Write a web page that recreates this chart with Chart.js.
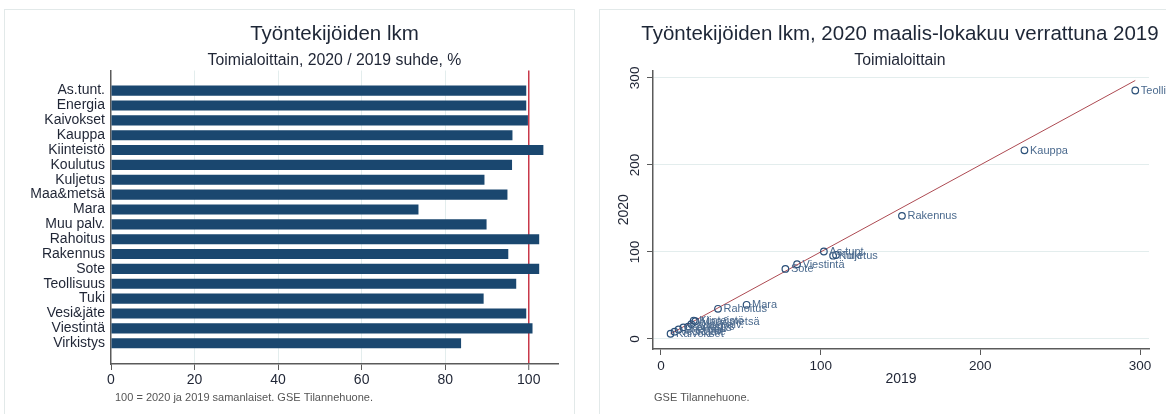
<!DOCTYPE html>
<html lang="fi">
<head>
    <meta charset="UTF-8">
    <title>Työntekijöiden lkm</title>
    <style>
        html, body {
            margin: 0;
            padding: 0;
            background: #fff;
            width: 1166px;
            height: 414px;
            overflow: hidden;
        }
        .panel {
            position: absolute;
            top: 9px;
            height: 430px;
            border: 1px solid #e2e9e9;
            box-sizing: border-box;
            background: #fff;
        }
        #leftPanel { left: 4px; width: 571px; }
        #rightPanel { left: 599px; width: 620px; }
        canvas { position: absolute; }
        #barChart { left: 5px; top: 11px; }
        #scatterChart { left: 600px; top: 11px; }
    </style>
</head>
<body>
    <div class="panel" id="leftPanel"></div>
    <div class="panel" id="rightPanel"></div>
    <canvas id="barChart" width="569" height="398"></canvas>
    <canvas id="scatterChart" width="600" height="398"></canvas>

    <script src="https://cdn.jsdelivr.net/npm/chart.js"></script>
    <script>
        // Left chart: 2020 / 2019 ratio by sector, %
        const sectors = ['As.tunt.', 'Energia', 'Kaivokset', 'Kauppa', 'Kiinteistö', 'Koulutus', 'Kuljetus',
            'Maa&metsä', 'Mara', 'Muu palv.', 'Rahoitus', 'Rakennus', 'Sote', 'Teollisuus', 'Tuki',
            'Vesi&jäte', 'Viestintä', 'Virkistys'];
        const ratio = [99.4, 99.4, 99.8, 96.1, 103.5, 96.0, 89.4,
            94.9, 73.6, 89.9, 102.5, 95.1, 102.5, 97.0, 89.2,
            99.4, 100.9, 83.8];
        const ratioTicks = [0, 20, 40, 60, 80, 100];
        const refValue = 100;

        // Right chart: employees 2019 vs 2020 (Mar-Oct)
        const scatterNames = ['Teollisuus', 'Kauppa', 'Rakennus', 'As.tunt.', 'Kuljetus', 'Tuki', 'Viestintä',
            'Sote', 'Mara', 'Rahoitus', 'Kiinteistö', 'Maa&metsä', 'Muu palv.', 'Virkistys', 'Koulutus',
            'Energia', 'Vesi&jäte', 'Kaivokset'];
        const emp2019 = [297, 227.6, 150.9, 102, 107.8, 109.6, 85.2,
            77.9, 53.6, 35.7, 20.5, 21.5, 19, 17, 14,
            11, 8.5, 6];
        const emp2020 = [285.5, 216.8, 141.5, 100.5, 95.7, 96.5, 85.9,
            80.5, 39.3, 34.7, 21.2, 20.4, 17.1, 14.2, 13.4,
            10.9, 8.4, 6];
        const refLine2019 = [6, 297];
        const refLine2020 = [6, 297];
        const empTicks = [0, 100, 200, 300];

        const FONT = '"Liberation Sans", Arial, sans-serif';
        const titleColor = '#1d2636';
        const textColor = '#1f2535';
        const gridColor = '#e3eded';
        const axisColor = '#5a5a5a';
        const navy = '#1a476f';

        Chart.defaults.font.family = FONT;

        // small source note under the plot
        const footnotePlugin = {
            id: 'footnote',
            afterDraw(chart, args, opts) {
                const ctx = chart.ctx;
                ctx.save();
                ctx.font = '11px ' + FONT;
                ctx.fillStyle = '#555';
                ctx.textBaseline = 'middle';
                ctx.fillText(opts.text, chart.chartArea.left + opts.dx, chart.height - opts.bottom);
                ctx.restore();
            }
        };

        // text next to each scatter marker
        const markerLabels = {
            id: 'markerLabels',
            afterDatasetsDraw(chart, args, opts) {
                const meta = chart.getDatasetMeta(0);
                const ctx = chart.ctx;
                ctx.save();
                ctx.font = '11px ' + FONT;
                ctx.fillStyle = '#4b6a8e';
                ctx.textBaseline = 'middle';
                meta.data.forEach((pt, i) => {
                    ctx.fillText(opts.names[i], pt.x + 5.5, pt.y + 0.5);
                });
                ctx.restore();
            }
        };

        const titleFont = { size: 20.5, weight: 'normal' };
        const subFont = { size: 15.8 };

        new Chart(document.getElementById('barChart'), {
            type: 'bar',
            data: {
                datasets: [{
                    data: ratio.map((v, i) => ({ x: v, y: i })),
                    backgroundColor: navy,
                    borderWidth: 0,
                    barPercentage: 0.68,
                    categoryPercentage: 1
                }]
            },
            options: {
                responsive: false,
                animation: false,
                indexAxis: 'y',
                layout: { padding: { left: 0, right: 16, top: 0, bottom: 15 } },
                plugins: {
                    legend: { display: false },
                    tooltip: { enabled: false },
                    title: {
                        display: true, text: 'Työntekijöiden lkm', fullSize: false,
                        color: titleColor, font: titleFont,
                        padding: { top: 11.5, bottom: 0 }
                    },
                    subtitle: {
                        display: true, text: 'Toimialoittain, 2020 / 2019 suhde, %', fullSize: false,
                        color: textColor, font: subFont,
                        padding: { top: 4.5, bottom: 0 }
                    },
                    footnote: { text: '100 = 2020 ja 2019 samanlaiset. GSE Tilannehuone.', dx: 4, bottom: 10.7 }
                },
                scales: {
                    x: {
                        type: 'linear', min: 0, max: 107,
                        afterBuildTicks: s => { s.ticks = ratioTicks.map(v => ({ value: v })); },
                        grid: {
                            color: c => c.tick && c.tick.value === refValue ? '#c8394a'
                                : (c.tick && c.tick.value === 0 ? 'rgba(0,0,0,0)' : gridColor),
                            lineWidth: c => c.tick && c.tick.value === refValue ? 1.5 : 1,
                            tickLength: 6, tickColor: axisColor, tickWidth: 1
                        },
                        border: { color: axisColor, width: 1.5 },
                        ticks: { padding: 2, color: textColor, font: { size: 14 } },
                        afterFit: s => { s.height = 30; }
                    },
                    y: {
                        type: 'linear', reverse: true, offset: false, min: -1.35, max: 18.4,
                        afterBuildTicks: s => { s.ticks = sectors.map((_, i) => ({ value: i })); },
                        ticks: {
                            callback: v => sectors[v], autoSkip: false, padding: 6,
                            color: textColor, font: { size: 14 }
                        },
                        grid: { display: false, drawTicks: false, offset: false },
                        border: { color: axisColor, width: 1.5 },
                        afterFit: s => { s.width = 106; }
                    }
                }
            },
            plugins: [footnotePlugin]
        });

        new Chart(document.getElementById('scatterChart'), {
            type: 'scatter',
            data: {
                datasets: [{
                    data: emp2019.map((x, i) => ({ x: x, y: emp2020[i] })),
                    pointRadius: 3.3,
                    pointHoverRadius: 3.3,
                    pointBorderWidth: 1.2,
                    borderColor: '#2a4f78',
                    backgroundColor: 'rgba(0,0,0,0)'
                }, {
                    data: refLine2019.map((x, i) => ({ x: x, y: refLine2020[i] })),
                    showLine: true,
                    borderColor: '#ad4a52',
                    borderWidth: 1,
                    pointRadius: 0
                }]
            },
            options: {
                responsive: false,
                animation: false,
                layout: { padding: { left: 0, right: 0, top: 0, bottom: 21 } },
                plugins: {
                    legend: { display: false },
                    tooltip: { enabled: false },
                    title: {
                        display: true, text: 'Työntekijöiden lkm, 2020 maalis-lokakuu verrattuna 2019',
                        color: titleColor, font: titleFont,
                        padding: { top: 11.5, bottom: 0 }
                    },
                    subtitle: {
                        display: true, text: 'Toimialoittain',
                        color: textColor, font: subFont,
                        padding: { top: 4.5, bottom: 0 }
                    },
                    markerLabels: { names: scatterNames },
                    footnote: { text: 'GSE Tilannehuone.', dx: 1, bottom: 10.7 }
                },
                scales: {
                    x: {
                        type: 'linear', min: -5, max: 305.6,
                        afterBuildTicks: s => { s.ticks = empTicks.map(v => ({ value: v })); },
                        grid: { drawOnChartArea: false, tickLength: 6, tickColor: axisColor },
                        border: { color: axisColor, width: 1.5 },
                        ticks: { padding: 3, color: textColor, font: { size: 13.5 } },
                        title: {
                            display: true, text: '2019', color: textColor,
                            font: { size: 14 }, padding: { top: 0, bottom: 0 }
                        },
                        afterFit: s => { s.height = 39; }
                    },
                    y: {
                        type: 'linear', min: -11.5, max: 308.4,
                        afterBuildTicks: s => { s.ticks = empTicks.map(v => ({ value: v })); },
                        grid: { color: gridColor, tickLength: 6, tickColor: axisColor },
                        border: { color: axisColor, width: 1.5 },
                        ticks: {
                            minRotation: 90, maxRotation: 90, crossAlign: 'center', padding: 0,
                            color: textColor, font: { size: 13.5 }
                        },
                        title: {
                            display: true, text: '2020', color: textColor,
                            font: { size: 14 }, padding: { top: 16, bottom: 0 }
                        },
                        afterFit: s => { s.width = 53; }
                    },
                    // empty right axis so the title centres over the plot
                    pad: {
                        type: 'linear', position: 'right', display: true,
                        grid: { display: false, drawTicks: false },
                        border: { display: false },
                        ticks: { display: false },
                        afterFit: s => { s.width = 51; }
                    }
                }
            },
            plugins: [markerLabels, footnotePlugin]
        });
    </script>
</body>
</html>
